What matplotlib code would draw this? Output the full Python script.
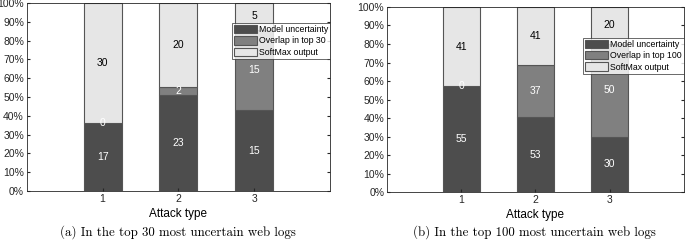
import matplotlib
matplotlib.use("Agg")
import matplotlib.pyplot as plt
import numpy as np

attack = [1, 2, 3]
series = ["Model uncertainty", "Overlap in top {}", "SoftMax output"]
top30 = {"model": [17, 23, 15], "overlap": [0, 2, 15], "softmax": [30, 20, 5]}
top100 = {"model": [55, 53, 30], "overlap": [0, 37, 50], "softmax": [41, 41, 20]}
captions = ["(a) In the top 30 most uncertain web logs",
            "(b) In the top 100 most uncertain web logs"]

colors = ["#4d4d4d", "#808080", "#e6e6e6"]
txtcol = ["white", "white", "black"]

plt.rcParams['font.family'] = ['Liberation Sans', 'DejaVu Sans']

fig = plt.figure(figsize=(6.85, 2.41), dpi=100)
axes = [fig.add_axes([0.039, 0.207, 0.443, 0.781]),
        fig.add_axes([0.565, 0.203, 0.4335, 0.768])]

for ax, data, n, leg_top, cap, cx in zip(axes, [top30, top100], [30, 100],
                                        [0.895, 0.835], captions, [0.26, 0.78]):
    vals = np.array([data["model"], data["overlap"], data["softmax"]], dtype=float)
    pct = vals / vals.sum(axis=0) * 100
    bottom = np.zeros(3)
    handles = []
    for i in range(3):
        h = ax.bar(attack, pct[i], 0.5, bottom=bottom, color=colors[i],
                   edgecolor="#555555", linewidth=0.8, label=series[i].format(n))
        handles.append(h)
        for x, b, p, v in zip(attack, bottom, pct[i], vals[i]):
            ax.text(x, b + p / 2, "%d" % v, ha="center", va="center",
                    fontsize=7.5, color=txtcol[i])
        bottom += pct[i]
    ax.set_xlim(0, 4)
    ax.set_ylim(0, 100)
    ax.set_xticks(attack)
    ax.set_yticks(np.arange(0, 101, 10))
    ax.set_yticklabels(["%d%%" % t for t in range(0, 101, 10)])
    ax.tick_params(direction="in", length=2.5, labelsize=7.5, top=True, right=True,
                   colors="#262626", pad=2)
    ax.tick_params(axis="x", top=False)
    for s in ax.spines.values():
        s.set_color("#262626")
        s.set_linewidth(0.6)
    ax.set_xlabel("Attack type", fontsize=8.5, labelpad=3)
    leg = ax.legend(handles=handles, loc="upper right", bbox_to_anchor=(1.0, leg_top),
                    fontsize=6.3, frameon=True, fancybox=False, borderpad=0.25,
                    labelspacing=0.25, handlelength=2.6, handleheight=1.1,
                    handletextpad=0.25, borderaxespad=0)
    leg.get_frame().set_edgecolor("#262626")
    leg.get_frame().set_linewidth(0.6)
    fig.text(cx, 0.035, cap, ha="center", va="center", fontsize=9.3,
             family=["cmr10", "DejaVu Serif"])

fig.savefig("out.png", dpi=100)
